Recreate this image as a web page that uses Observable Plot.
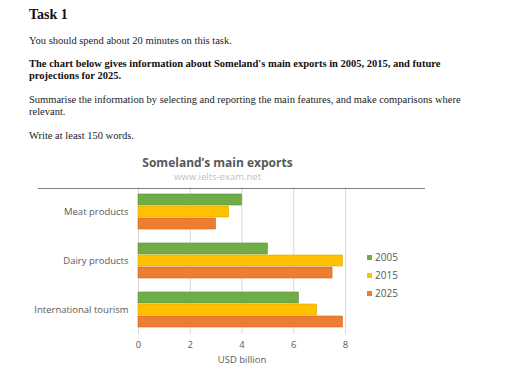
<!DOCTYPE html>
<html><head><meta charset="utf-8">
<script src="https://cdn.jsdelivr.net/npm/d3@7"></script>
<script src="https://cdn.jsdelivr.net/npm/@observablehq/plot@0.6"></script>
<style>
body{margin:0;background:#fff;width:512px;height:376px;position:relative;overflow:hidden}
.t{position:absolute;left:29px;font-family:"Liberation Serif",serif;font-size:10.5px;color:#222;white-space:nowrap;line-height:12px}
.b{font-weight:bold;color:#111}
.ct{position:absolute;left:0;width:435px;text-align:center;font-family:"Open Sans",sans-serif;white-space:nowrap}
#chart{position:absolute;left:0;top:176px}
.hl{position:absolute;left:38px;top:188px;width:387px;height:1px;background:#7f7f7f}
.lg{position:absolute;left:367px;font-family:"Open Sans",sans-serif;font-size:10px;color:#595959;line-height:12px;white-space:nowrap}
.lg span{display:inline-block;width:5px;height:5px;margin-right:3px;vertical-align:1px}
</style></head><body>
<div class="t b" style="top:8px;font-size:14px;line-height:14px;font-weight:900">Task 1</div>
<div class="t" style="top:35px">You should spend about 20 minutes on this task.</div>
<div class="t b" style="top:58px">The chart below gives information about Someland's main exports in 2005, 2015, and future<br>projections for 2025.</div>
<div class="t" style="top:94px">Summarise the information by selecting and reporting the main features, and make comparisons where<br>relevant.</div>
<div class="t" style="top:130px">Write at least 150 words.</div>
<div class="ct" style="top:155px;font-size:12px;font-weight:bold;color:#595959;line-height:16px">Someland’s main exports</div>
<div class="ct" style="top:171px;font-size:9.5px;color:#bfbfbf;line-height:12px">www.ielts-exam.net</div>
<div id="chart"></div>
<div class="hl"></div>
<div id="legend"></div>
<script>
const categories = ["Meat products", "Dairy products", "International tourism"];
const years = ["2005", "2015", "2025"];
const v2005 = [4.0, 5.0, 6.2];
const v2015 = [3.5, 7.9, 6.9];
const v2025 = [3.0, 7.5, 7.9];
const colors = ["#70ad47", "#ffc000", "#ed7d31"];
const edges = ["#5a9236", "#e0a600", "#d06a24"];
const xTicks = [0, 2, 4, 6, 8];

const series = [v2005, v2015, v2025];
const data = [];
categories.forEach((c, i) => years.forEach((y, j) => data.push({category: c, year: y, value: series[j][i]})));

const chart = Plot.plot({
  width: 512,
  height: 200,
  marginTop: 10,
  marginBottom: 42,
  marginLeft: 138,
  marginRight: 167,
  style: {fontFamily: "Open Sans, sans-serif", fontSize: "9.5px", color: "#595959", background: "transparent"},
  x: {domain: [0, 8], ticks: xTicks},
  y: {domain: years, paddingInner: 0.1, paddingOuter: 0.55, axis: null},
  fy: {domain: categories, padding: 0},
  color: {domain: years, range: colors},
  marks: [
    Plot.gridX(xTicks, {stroke: "#d9d9d9", strokeOpacity: 1}),
    ...years.map((yr, j) => Plot.barX(data, {filter: d => d.year === yr, x: "value", y: "year", fy: "category", fill: "year", stroke: edges[j], strokeWidth: 0.6})),
    Plot.axisFy({anchor: "left", label: null, tickSize: 0, tickPadding: 10}),
    Plot.axisX(xTicks, {anchor: "bottom", tickSize: 0, tickPadding: 7, label: "USD billion", labelAnchor: "center", labelArrow: "none", labelOffset: 28})
  ]
});
document.getElementById("chart").appendChild(chart);

const lg = document.getElementById("legend");
years.forEach((y, i) => {
  const d = document.createElement("div");
  d.className = "lg";
  d.style.top = (251 + i * 18) + "px";
  d.innerHTML = `<span style="background:${colors[i]}"></span>${y}`;
  lg.appendChild(d);
});
</script>
</body></html>
